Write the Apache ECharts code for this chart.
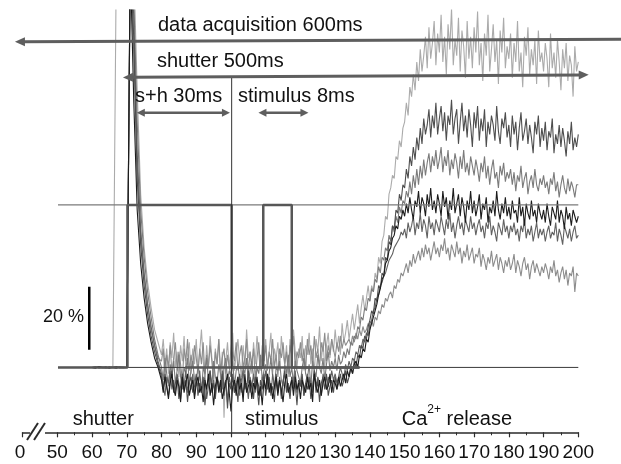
<!DOCTYPE html>
<html>
<head>
<meta charset="utf-8">
<script src="https://cdn.jsdelivr.net/npm/echarts@6/dist/echarts.min.js"></script>
<style>
html, body { margin: 0; padding: 0; background: #fff; }
#chart { width: 621px; height: 464px; }
</style>
</head>
<body>
<div id="chart"></div>
<script>
// fluorescence traces (values in %). shutter spike part: 1 ms steps from 60 ms,
// noisy part: 0.5 ms steps from 80 ms to 200 ms
var spikeStart = 60, spikeStep = 1;
var noiseStart = 80, noiseStep = 0.5;

var spikeLight = [0, 0.3, -0.2, 0.2, 0, -0.3, 0.2, 130, 130, 130, 130, 130, 128, 88, 55, 38, 27, 19, 12, 8];
var spikeDark  = [0, -0.2, 0.3, 0, -0.2, 0.2, 0, -0.3, 0.2, 0, 0, 130, 105, 60, 39, 26, 17, 10, 5, 1];
var spikeMid   = [0, 0.2, -0.2, 0.1, 0, -0.2, 0.2, 0, -0.1, 0.2, 0, 125, 118, 78, 50, 35, 24, 16, 9, 4];
var spikeBlack = [0, -0.2, 0.2, 0, 0.1, -0.2, 0, 0.2, -0.1, 0, 0, 130, 85, 50, 33, 22, 14, 8, 3, 0];
var spikeGrey  = [0, 0.2, 0, -0.2, 0.1, 0, -0.1, 0.2, 0, -0.2, 0, 128, 112, 68, 44, 30, 20, 13, 7, 2];
var spikeLow   = [0, -0.1, 0.2, 0, -0.2, 0.1, 0, -0.1, 0.2, 0, 0, 126, 100, 64, 42, 29, 20, 12, 7, 3];

var noiseLight = [
  4, 9, 1, 6, -2, 8, 3, 11, 0, 5, -3, 7, 2, 10, -1, 4, 8, -2, 6, 1,
  9, -1, 5, 12, 2, -3, 7, 0, 10, 3, -2, 6, 1, 9, -4, 5, -16, 2, 8, 0,
  6, 11, -1, 4, 9, 2, -3, 7, 0, 12, 3, 5, -2, 8, 1, 10, 4, -1, 7, 2,
  9, 0, 5, 11, -2, 6, 3, 8, -1, 10, 4, 1, 7, -3, 9, 2, 12, 5, 0, 6,
  3, 10, -1, 7, 4, 11, 1, 6, -2, 9, 5, 13, 2, 8, 0, 7, 11, 3, 9, 5,
  12, 6, 10, 4, 14, 8, 11, 15, 9, 13, 17, 12, 16, 20, 14, 19, 23, 18, 22, 26,
  21, 26, 24, 30, 28, 35, 33, 40, 42, 48, 47, 55, 57, 61, 60, 67, 66, 72, 70, 76,
  78, 84, 80, 89, 86, 93, 88, 97, 91, 101, 94, 99, 105, 95, 108, 98, 103, 110, 96, 106,
  100, 112, 97, 105, 93, 109, 101, 114, 96, 104, 99, 111, 94, 107, 102, 92, 110, 98, 105, 95,
  108, 100, 113, 96, 103, 91, 106, 99, 112, 94, 101, 109, 97, 104, 90, 107, 100, 111, 95, 102,
  98, 106, 92, 103, 97, 110, 94, 100, 89, 105, 99, 108, 93, 101, 96, 104, 90, 107, 97, 100,
  94, 103, 98, 89, 106, 95, 100, 92, 104, 97, 88, 101, 95, 103, 91, 99, 96, 86, 102, 94,
  97
];
var noiseDark = [
  -3, -7, -2, -6, -9, -4, -1, -8, -5, -3, -10, -6, -2, -7, -4, -11, -5, -3, -8, -6,
  -2, -9, -5, -7, -3, -12, -6, -4, -1, -8, -5, -10, -3, -7, -6, -2, -9, -4, -13, -5,
  -7, -3, -8, -5, -11, -2, -6, -9, -4, -7, -1, -8, -5, -10, -3, -6, -12, -4, -7, -2,
  -9, -5, -3, -8, -6, -11, -2, -7, -4, -9, -5, -1, -8, -6, -10, -3, -7, -5, -12, -4,
  -6, -2, -9, -5, -7, -3, -10, -6, -1, -8, -4, -11, -5, -3, -7, -2, -9, -6, -4, -8,
  -3, -7, -5, -2, -6, -4, -1, -5, -3, 0, -2, 2, 0, 4, 3, 7, 6, 10, 9, 13,
  15, 18, 17, 22, 21, 26, 25, 30, 29, 35, 34, 40, 39, 45, 44, 50, 49, 55, 53, 58,
  57, 63, 60, 67, 64, 70, 66, 73, 69, 76, 71, 79, 74, 77, 82, 73, 80, 76, 84, 74,
  79, 83, 75, 81, 72, 80, 77, 85, 74, 79, 82, 71, 78, 84, 75, 80, 73, 82, 77, 70,
  81, 76, 83, 72, 79, 75, 82, 70, 78, 74, 80, 77, 72, 83, 75, 71, 79, 76, 81, 73,
  77, 70, 80, 74, 78, 69, 76, 81, 72, 75, 79, 71, 77, 73, 68, 78, 74, 80, 70, 76,
  72, 78, 69, 75, 73, 79, 68, 74, 71, 77, 70, 76, 72, 67, 75, 71, 78, 69, 73, 70,
  74
];
var noiseMid = [
  0, -4, 3, -2, -6, 1, -3, 2, -5, -1, 4, -3, -7, 0, -2, 3, -5, -1, 2, -4,
  -6, 1, -3, -8, 0, -2, 3, -4, -1, -6, 2, -3, -5, 1, -2, -7, 0, 3, -4, -1,
  -3, 2, -6, -1, 1, -4, -8, 0, -2, 3, -5, -1, 2, -3, -6, 0, -2, 4, -4, -1,
  1, -5, -2, 3, -3, -7, 0, -1, 2, -4, -6, 1, -2, 4, -3, 0, -5, 2, -1, -3,
  -5, 0, 3, -2, -4, 1, -6, 2, -1, -3, 4, 0, -2, 3, -4, 1, 5, -1, 2, 0,
  3, -1, 4, 1, 2, 5, 3, 6, 4, 8, 7, 10, 9, 13, 12, 16, 15, 19, 18, 22,
  21, 25, 24, 28, 27, 32, 30, 35, 34, 38, 37, 42, 40, 45, 43, 48, 46, 51, 49, 53,
  52, 56, 54, 59, 55, 61, 57, 63, 58, 64, 60, 66, 61, 65, 68, 62, 67, 64, 69, 63,
  66, 70, 62, 67, 64, 69, 61, 66, 63, 68, 65, 60, 67, 63, 69, 62, 65, 61, 67, 64,
  61, 66, 63, 59, 65, 62, 67, 60, 64, 58, 63, 66, 60, 62, 57, 64, 61, 65, 59, 62,
  60, 63, 58, 62, 56, 61, 59, 64, 57, 60, 62, 55, 59, 61, 57, 63, 58, 56, 60, 58,
  61, 57, 59, 55, 60, 58, 62, 56, 59, 54, 58, 61, 57, 55, 60, 56, 59, 57, 54, 58,
  58
];
var noiseBlack = [
  -4, -8, -3, -6, -10, -5, -2, -7, -9, -4, -6, -11, -3, -8, -5, -2, -9, -6, -4, -10,
  -5, -3, -8, -6, -11, -4, -7, -2, -9, -5, -12, -6, -3, -8, -4, -10, -7, -5, -2, -8,
  -14, -6, -4, -9, -3, -7, -5, -11, -2, -8, -6, -4, -10, -5, -7, -3, -9, -6, -12, -4,
  -7, -2, -8, -5, -10, -6, -3, -9, -4, -7, -11, -5, -2, -8, -6, -4, -9, -3, -7, -5,
  -10, -4, -6, -8, -3, -7, -5, -11, -2, -6, -8, -4, -9, -5, -3, -7, -6, -2, -8, -4,
  -5, -7, -3, -6, -4, -2, -5, -1, -3, 0, -2, 1, 2, 0, 4, 3, 6, 5, 9, 8,
  12, 14, 16, 18, 20, 23, 25, 28, 29, 33, 34, 37, 38, 41, 42, 45, 44, 48, 47, 50,
  48, 52, 49, 54, 50, 47, 53, 51, 56, 49, 54, 52, 48, 55, 51, 57, 50, 53, 49, 55,
  52, 48, 56, 51, 54, 47, 53, 50, 57, 49, 52, 55, 48, 54, 51, 46, 53, 50, 56, 49,
  53, 48, 51, 55, 47, 52, 50, 54, 46, 51, 49, 53, 48, 56, 50, 47, 52, 49, 54, 48,
  51, 47, 53, 49, 50, 46, 54, 48, 51, 45, 52, 49, 47, 53, 48, 50, 46, 52, 49, 47,
  50, 46, 52, 48, 45, 51, 49, 47, 53, 46, 50, 48, 44, 51, 47, 49, 45, 50, 48, 46,
  48
];
var noiseGrey = [
  -2, -6, -9, -3, -5, -1, -7, -4, -8, -2, -5, -10, -3, -6, -1, -8, -4, -7, -2, -9,
  -4, -6, -1, -8, -5, -3, -10, -6, -2, -7, -4, -9, -3, -5, -8, -1, -6, -4, -11, -3,
  -6, -2, -8, -5, -3, -9, -4, -1, -7, -5, -10, -3, -6, -2, -8, -4, -6, -9, -3, -5,
  -1, -7, -4, -9, -2, -6, -5, -8, -3, -10, -4, -2, -7, -5, -9, -3, -6, -1, -8, -4,
  -6, -3, -9, -5, -2, -7, -4, -8, -1, -6, -3, -5, -9, -2, -4, -7, -3, -5, -1, -4,
  -2, -5, -3, 0, -2, -4, 1, -1, 2, 0, 3, 2, 5, 4, 7, 6, 9, 8, 11, 10,
  14, 15, 18, 19, 22, 23, 26, 27, 29, 30, 32, 34, 35, 36, 38, 39, 40, 41, 43, 42,
  44, 41, 46, 43, 45, 48, 42, 46, 44, 49, 43, 47, 45, 41, 48, 44, 46, 42, 47, 45,
  43, 48, 45, 42, 47, 44, 49, 43, 46, 41, 45, 48, 44, 46, 42, 47, 45, 43, 48, 44,
  46, 42, 45, 47, 43, 45, 41, 46, 44, 48, 42, 45, 43, 40, 46, 44, 42, 47, 43, 45,
  41, 45, 43, 46, 42, 44, 40, 45, 43, 47, 41, 44, 42, 45, 40, 43, 46, 41, 44, 42,
  44, 40, 43, 45, 41, 43, 42, 46, 40, 44, 42, 39, 45, 43, 41, 44, 40, 43, 45, 41,
  42
];
var noiseLow = [
  2, 6, -3, 4, 0, 7, -2, 3, 8, -1, 5, 1, -4, 6, 2, 9, -1, 4, 0, 7,
  3, -2, 6, 1, 8, -3, 4, 0, 7, 2, -5, 5, 1, 9, -1, 3, 6, -2, 4, 0,
  -3, 5, 2, 8, -1, 4, 7, 0, 3, 9, -2, 5, 1, 6, -4, 3, 8, 0, 4, 2,
  7, -1, 5, 2, 9, 0, 4, -3, 6, 3, 8, 1, 5, -2, 7, 4, 10, 0, 5, 3,
  8, 2, 6, -1, 9, 4, 7, 1, 10, 3, 6, 0, 8, 5, 11, 2, 7, 4, 9, 6,
  3, 8, 5, 10, 6, 9, 7, 8, 9, 7, 10, 8, 11, 9, 12, 10, 13, 11, 12, 14,
  12, 15, 13, 16, 15, 18, 17, 20, 19, 22, 21, 23, 24, 22, 26, 25, 28, 27, 30, 29,
  31, 33, 30, 34, 32, 36, 33, 35, 37, 34, 38, 35, 39, 36, 38, 34, 37, 40, 36, 38,
  35, 39, 37, 41, 36, 38, 34, 39, 37, 35, 40, 36, 38, 33, 37, 35, 39, 34, 36, 38,
  33, 36, 35, 38, 32, 36, 34, 31, 35, 33, 37, 32, 34, 36, 31, 35, 33, 30, 34, 32,
  35, 31, 33, 36, 30, 34, 32, 29, 33, 35, 31, 33, 28, 32, 34, 30, 33, 31, 29, 32,
  30, 33, 31, 28, 32, 30, 34, 29, 31, 27, 30, 32, 28, 31, 26, 30, 29, 32, 24, 30,
  29
];

// TTL step signals [ms, %]
var shutterTTL = [[50.2, 0], [70.2, 0], [70.2, 51.6], [100.2, 51.6], [100.2, 0], [137, 0]];
var stimulusTTL = [[86.8, 0], [109.3, 0], [109.3, 51.6], [117.5, 51.6], [117.5, 0], [137, 0]];
var levelHigh = [[50.2, 51.6], [200, 51.6]];
var levelLow = [[50.2, 0], [200, 0]];
var stimulusMarker = [[100.2, 92.2], [100.2, -20.6]];
var scaleBar = [[59.2, 5.6], [59.2, 25.6]];

// arrows: x1, y1, x2, y2, heads (1 left, 2 right, 3 both)
var arrows = [
  [37.8, 103.4, 214, 104.2, 1],
  [68.9, 92.1, 203.0, 92.9, 3],
  [72.9, 80.9, 99.7, 80.9, 3],
  [107.9, 80.9, 122.3, 80.9, 3]
];

var xMin = 40, xMax = 200, xInterval = 10;
var yMin = -20.6, yMax = 113.5;
var breakLabel = '0';

function sampled(spike, noise) {
  var a = spike.map(function (v, i) { return [spikeStart + i * spikeStep, v]; });
  var b = noise.map(function (v, i) { return [noiseStart + i * noiseStep, v]; });
  return a.concat(b);
}

var font = '"Liberation Sans", Arial, sans-serif';
var arrowColor = '#5e5e5e';
var arrowWidths = [3, 3, 2.5, 2.5];
var headLen = [10, 10, 8, 8];
var headHalf = [4.5, 4.5, 4, 4];

function traceSeries(spike, noise, color) {
  return {
    type: 'line', data: sampled(spike, noise), showSymbol: false, z: 2,
    lineStyle: { color: color, width: 1.1 }, silent: true
  };
}
function stepSeries(data, color, width, z) {
  return {
    type: 'line', data: data, showSymbol: false, z: z,
    lineStyle: { color: color, width: width }, silent: true
  };
}

var chart = echarts.init(document.getElementById('chart'));
var option = {
  animation: false,
  backgroundColor: '#fff',
  grid: { left: 22.57, right: 42.7, top: 10, bottom: 31.7 },
  xAxis: {
    type: 'value', min: xMin, max: xMax, interval: xInterval,
    axisLine: { onZero: false, lineStyle: { color: '#2b2b2b', width: 1.5 } },
    axisTick: { length: 5, lineStyle: { color: '#2b2b2b', width: 1.2 } },
    minorTick: { show: true, splitNumber: 2, length: 3, lineStyle: { color: '#2b2b2b', width: 1 } },
    splitLine: { show: false },
    axisLabel: {
      margin: 11, fontSize: 19, color: '#111', fontFamily: font,
      formatter: function (v) { return v === xMin ? '{z|' + breakLabel + '}' : String(v); },
      rich: { z: { fontSize: 19, fontFamily: font, color: '#111', padding: [0, 5, 0, 0] } }
    }
  },
  yAxis: { type: 'value', min: yMin, max: yMax, show: false, splitLine: { show: false } },
  series: [
    traceSeries(spikeLight, noiseLight, '#ababab'),
    traceSeries(spikeLow, noiseLow, '#8c8c8c'),
    traceSeries(spikeMid, noiseMid, '#7b7b7b'),
    traceSeries(spikeGrey, noiseGrey, '#626262'),
    traceSeries(spikeDark, noiseDark, '#4e4e4e'),
    traceSeries(spikeBlack, noiseBlack, '#1c1c1c'),
    stepSeries(levelLow, '#3a3a3a', 1, 3),
    stepSeries(levelHigh, '#7a7a7a', 1.3, 3),
    stepSeries(shutterTTL, '#575757', 2.5, 4),
    stepSeries(stimulusTTL, '#575757', 2.5, 4),
    stepSeries(stimulusMarker, '#333', 1, 4),
    stepSeries(scaleBar, '#000', 2.5, 4),
    {
      type: 'custom', clip: false, z: 6, silent: true,
      data: arrows,
      renderItem: function (params, api) {
        var i = params.dataIndex;
        var a = api.coord([api.value(0), api.value(1)]);
        var b = api.coord([api.value(2), api.value(3)]);
        var heads = api.value(4);
        var dx = b[0] - a[0], dy = b[1] - a[1];
        var len = Math.sqrt(dx * dx + dy * dy);
        var ux = dx / len, uy = dy / len, nx = -uy, ny = ux;
        var L = headLen[i], H = headHalf[i];
        var s = a.slice(), e = b.slice();
        var children = [];
        if (heads & 1) {
          s = [a[0] + ux * L * 0.7, a[1] + uy * L * 0.7];
          children.push({ type: 'polygon', shape: { points: [a,
            [a[0] + ux * L + nx * H, a[1] + uy * L + ny * H],
            [a[0] + ux * L - nx * H, a[1] + uy * L - ny * H]] },
            style: { fill: arrowColor } });
        }
        if (heads & 2) {
          e = [b[0] - ux * L * 0.7, b[1] - uy * L * 0.7];
          children.push({ type: 'polygon', shape: { points: [b,
            [b[0] - ux * L + nx * H, b[1] - uy * L + ny * H],
            [b[0] - ux * L - nx * H, b[1] - uy * L - ny * H]] },
            style: { fill: arrowColor } });
        }
        children.unshift({ type: 'line', shape: { x1: s[0], y1: s[1], x2: e[0], y2: e[1] },
          style: { stroke: arrowColor, lineWidth: arrowWidths[i] } });
        return { type: 'group', children: children };
      }
    }
  ],
  graphic: [
    { type: 'rect', z: 100, shape: { x: 30, y: 428, width: 15, height: 10 }, style: { fill: '#fff' } },
    { type: 'line', z: 101, shape: { x1: 27, y1: 440, x2: 38, y2: 423 }, style: { stroke: '#2b2b2b', lineWidth: 2 } },
    { type: 'line', z: 101, shape: { x1: 34, y1: 440, x2: 45, y2: 423 }, style: { stroke: '#2b2b2b', lineWidth: 2 } },
    { type: 'text', z: 100, x: 158, y: 25, style: { text: 'data acquisition 600ms', font: '20px ' + font, fill: '#111', verticalAlign: 'middle' } },
    { type: 'text', z: 100, x: 157, y: 61.5, style: { text: 'shutter 500ms', font: '20px ' + font, fill: '#111', verticalAlign: 'middle' } },
    { type: 'text', z: 100, x: 135, y: 96.5, style: { text: 's+h 30ms', font: '20px ' + font, fill: '#111', verticalAlign: 'middle' } },
    { type: 'text', z: 100, x: 238, y: 96.5, style: { text: 'stimulus 8ms', font: '20px ' + font, fill: '#111', verticalAlign: 'middle' } },
    { type: 'text', z: 100, x: 43, y: 316.7, style: { text: '20 %', font: '18px ' + font, fill: '#111', verticalAlign: 'middle' } },
    { type: 'text', z: 100, x: 72.7, y: 419, style: { text: 'shutter', font: '20px ' + font, fill: '#111', verticalAlign: 'middle' } },
    { type: 'text', z: 100, x: 245, y: 419, style: { text: 'stimulus', font: '20px ' + font, fill: '#111', verticalAlign: 'middle' } },
    { type: 'text', z: 100, x: 401.7, y: 419, style: {
      text: '{a|Ca}{s|2+}{a| release}', verticalAlign: 'middle',
      rich: {
        a: { fontSize: 20, fontFamily: font, fill: '#111', lineHeight: 30 },
        s: { fontSize: 12, fontFamily: font, fill: '#111', lineHeight: 12, verticalAlign: 'top' }
      }
    } }
  ]
};
chart.setOption(option);
</script>
</body>
</html>
